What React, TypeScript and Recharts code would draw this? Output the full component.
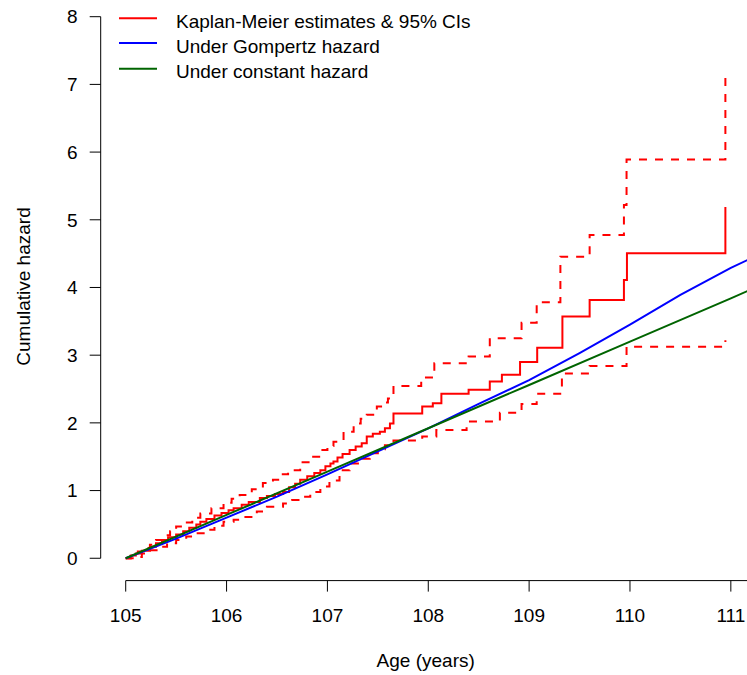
import React from "react";
import { LineChart, Line, XAxis, YAxis, ReferenceLine, Legend } from "recharts";

// Kaplan-Meier cumulative hazard (step function)
const kmAge = [105.0, 105.05, 105.1, 105.16, 105.24, 105.3, 105.36, 105.42, 105.5, 105.57, 105.63, 105.7, 105.74, 105.8, 105.88, 105.95, 106.02, 106.07, 106.15, 106.22, 106.33, 106.4, 106.48, 106.56, 106.62, 106.68, 106.73, 106.8, 106.87, 106.93, 106.98, 107.03, 107.06, 107.1, 107.15, 107.22, 107.28, 107.34, 107.39, 107.45, 107.52, 107.57, 107.62, 107.655, 107.94, 108.045, 108.13, 108.4, 108.61, 108.73, 108.91, 109.08, 109.33, 109.6, 109.94, 109.97, 110.946];
const kmHaz = [0, 0.04, 0.07, 0.11, 0.17, 0.22, 0.27, 0.31, 0.35, 0.4, 0.45, 0.5, 0.54, 0.58, 0.63, 0.67, 0.71, 0.74, 0.79, 0.83, 0.89, 0.92, 0.95, 0.98, 1.05, 1.1, 1.16, 1.21, 1.26, 1.3, 1.36, 1.4, 1.43, 1.49, 1.54, 1.6, 1.65, 1.7, 1.8, 1.84, 1.87, 1.92, 1.99, 2.14, 2.24, 2.29, 2.43, 2.49, 2.61, 2.71, 2.9, 3.11, 3.57, 3.815, 4.11, 4.505, 5.19];

// Upper 95% CI
const upAge = [105.0, 105.05, 105.12, 105.18, 105.24, 105.3, 105.37, 105.44, 105.5, 105.58, 105.66, 105.74, 105.85, 105.97, 106.05, 106.13, 106.25, 106.36, 106.46, 106.54, 106.61, 106.73, 106.83, 106.93, 107.0, 107.06, 107.16, 107.26, 107.33, 107.39, 107.49, 107.56, 107.6, 107.655, 107.93, 108.06, 108.4, 108.61, 108.925, 109.075, 109.31, 109.6, 109.94, 109.966, 110.946];
const upHaz = [0, 0.05, 0.1, 0.15, 0.2, 0.27, 0.34, 0.4, 0.47, 0.53, 0.6, 0.66, 0.74, 0.82, 0.88, 0.935, 1.02, 1.11, 1.16, 1.24, 1.3, 1.42, 1.5, 1.6, 1.66, 1.72, 1.87, 1.99, 2.06, 2.12, 2.24, 2.3, 2.36, 2.545, 2.67, 2.88, 2.98, 3.25, 3.48, 3.78, 4.455, 4.775, 5.22, 5.89, 7.16];

// Lower 95% CI
const loAge = [105.0, 105.08, 105.16, 105.24, 105.33, 105.41, 105.5, 105.6, 105.7, 105.8, 105.88, 105.97, 106.07, 106.17, 106.3, 106.4, 106.56, 106.65, 106.73, 106.83, 106.93, 107.02, 107.12, 107.22, 107.32, 107.42, 107.5, 107.57, 107.655, 107.94, 108.08, 108.38, 108.71, 108.925, 109.075, 109.325, 109.6, 109.966, 110.946];
const loHaz = [0, 0.02, 0.07, 0.12, 0.17, 0.22, 0.27, 0.32, 0.37, 0.42, 0.48, 0.54, 0.57, 0.61, 0.69, 0.76, 0.81, 0.86, 0.91, 0.98, 1.06, 1.15, 1.3, 1.4, 1.47, 1.55, 1.61, 1.67, 1.74, 1.8, 1.895, 2.02, 2.15, 2.28, 2.43, 2.73, 2.84, 3.126, 3.22];

// Fitted cumulative hazards
const gompAge = [105, 105.5, 106, 106.5, 107, 107.5, 108, 108.5, 109, 109.5, 110, 110.5, 111, 111.2];
const gompHaz = [0, 0.29, 0.6, 0.91, 1.24, 1.58, 1.92, 2.28, 2.63, 3.03, 3.45, 3.89, 4.29, 4.43];
const constAge = [105, 106, 107, 108, 109, 110, 111, 111.2];
const constHaz = [0, 0.64, 1.28, 1.92, 2.56, 3.2, 3.84, 3.97];

const xTicks = [105, 106, 107, 108, 109, 110, 111];
const yTicks = [0, 1, 2, 3, 4, 5, 6, 7, 8];

const legendLabels = ["Kaplan-Meier estimates & 95% CIs", "Under Gompertz hazard", "Under constant hazard"];
const legendColors = ["#FF0000", "#0000FF", "#006400"];

const toPts = (xs: number[], ys: number[]) => xs.map((x, i) => ({ x, y: ys[i] }));

const km = toPts(kmAge, kmHaz);
const kmUp = toPts(upAge, upHaz);
const kmLo = toPts(loAge, loHaz);
const gomp = toPts(gompAge, gompHaz);
const cons = toPts(constAge, constHaz);

const FONT = "'Liberation Sans', Arial, Helvetica, sans-serif";

const renderLegend = () => {
  const lineY = [18.3, 43, 68.8];
  const textY = [28.3, 53.3, 78.3];
  return (
    <svg width={500} height={90} style={{ display: "block" }}>
      {legendLabels.map((lab, i) => (
        <g key={lab}>
          <line x1={119} x2={157} y1={lineY[i]} y2={lineY[i]} stroke={legendColors[i]} strokeWidth={2} />
          <text x={176} y={textY[i]} fontFamily={FONT} fontSize={19} fill="#000">
            {lab}
          </text>
        </g>
      ))}
    </svg>
  );
};

const XTitle = () => (
  <text x={425.7} y={666.5} textAnchor="middle" fontFamily={FONT} fontSize={19} fill="#000">
    Age (years)
  </text>
);

const YTitle = () => (
  <text
    x={29.8}
    y={286.5}
    textAnchor="middle"
    fontFamily={FONT}
    fontSize={19}
    fill="#000"
    transform="rotate(-90 29.8 286.5)"
  >
    Cumulative hazard
  </text>
);

export default function App() {
  return (
    <div style={{ position: "absolute", left: 0, top: 0, width: 747, height: 675, overflow: "hidden", background: "#fff" }}>
      <LineChart width={760} height={675} margin={{ top: 16.7, right: 9, bottom: 0, left: 0 }}>
        <XAxis
          type="number"
          dataKey="x"
          domain={[104.752, 111.2]}
          allowDataOverflow
          ticks={xTicks}
          interval={0}
          axisLine={false}
          tickSize={11}
          tickMargin={16.7}
          height={94.4}
          tickLine={{ stroke: "#000", strokeWidth: 1 }}
          tick={{ fill: "#000", fontSize: 19, fontFamily: FONT }}
          label={{ content: () => <XTitle /> }}
        />
        <YAxis
          type="number"
          dataKey="y"
          domain={[-0.33, 8]}
          allowDataOverflow
          ticks={yTicks}
          interval={0}
          axisLine={false}
          width={100.7}
          tickSize={11}
          tickMargin={12}
          tickLine={{ stroke: "#000", strokeWidth: 1 }}
          tick={{ fill: "#000", fontSize: 19, fontFamily: FONT }}
          label={{ content: () => <YTitle /> }}
        />
        <ReferenceLine
          segment={[{ x: 104.752, y: 0 }, { x: 104.752, y: 8 }]}
          stroke="#000"
          strokeWidth={1}
          ifOverflow="visible"
        />
        <ReferenceLine
          segment={[{ x: 105, y: -0.33 }, { x: 111.2, y: -0.33 }]}
          stroke="#000"
          strokeWidth={1}
          ifOverflow="visible"
        />
        <Legend
          layout="horizontal"
          verticalAlign="middle"
          align="center"
          content={renderLegend}
          wrapperStyle={{ left: 0, top: 0, width: 500, height: 90 }}
        />
        <Line data={kmUp} dataKey="y" type="stepAfter" stroke="#FF0000" strokeWidth={2} strokeDasharray="8 8" dot={false} activeDot={false} isAnimationActive={false} legendType="none" />
        <Line data={kmLo} dataKey="y" type="stepAfter" stroke="#FF0000" strokeWidth={2} strokeDasharray="8 8" dot={false} activeDot={false} isAnimationActive={false} legendType="none" />
        <Line data={km} dataKey="y" type="stepAfter" stroke="#FF0000" strokeWidth={2} dot={false} activeDot={false} isAnimationActive={false} />
        <Line data={gomp} dataKey="y" type="linear" stroke="#0000FF" strokeWidth={2} dot={false} activeDot={false} isAnimationActive={false} />
        <Line data={cons} dataKey="y" type="linear" stroke="#006400" strokeWidth={2} dot={false} activeDot={false} isAnimationActive={false} />
      </LineChart>
    </div>
  );
}
